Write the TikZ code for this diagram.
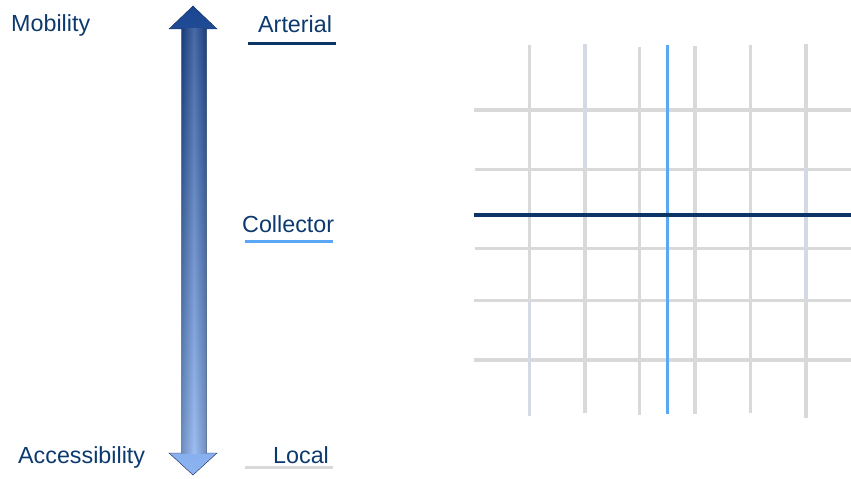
\documentclass[tikz,border=0pt]{standalone}
\usepackage{fontspec}
\setmainfont{Liberation Sans}
\definecolor{txtblue}{HTML}{0D3A6E}
\definecolor{artcol}{HTML}{0B3566}
\definecolor{colcol}{HTML}{5AA8F5}
\definecolor{loccol}{HTML}{D9D9D9}
\definecolor{gridgray}{HTML}{D9D9D9}
\definecolor{gridblu}{HTML}{D3DAE4}
\definecolor{arrtop}{HTML}{1A4590}
\definecolor{arrbot}{HTML}{8DB4F2}
\tikzset{
  lbl/.style={anchor=base west, inner sep=0pt, text=txtblue, font=\fontsize{23.3bp}{27bp}\selectfont},
  uline/.style={line width=3bp},
  road/.style={line width=3.3bp, gridgray},
  roadb/.style={line width=3.3bp, gridblu},
}
\begin{document}
\begin{tikzpicture}[x=1bp,y=-1bp]
\useasboundingbox (0,0) rectangle (851,479);
% arrow
\path[shade, top color=arrtop, bottom color=arrbot, draw=arrtop!60!black, line width=0.4bp]
  (193,6) -- (217,29) -- (206.5,29) -- (206.5,453) -- (217,453) -- (193,475) -- (169,453)
  -- (181.5,453) -- (181.5,29) -- (169,29) -- cycle;
\shade[left color=black, right color=black, middle color=white, fill opacity=0.18]
  (181.5,29) rectangle (206.5,453);
% labels
\node[lbl] (mob) at (11,32) {Mobility};
\node[lbl] (acc) at (18,463) {Accessibility};
\node[lbl] (art) at (258,33) {Arterial};
\node[lbl] (col) at (242,233) {Collector};
\node[lbl] (loc) at (273,463) {Local};
\coordinate (artA) at (248,43.5); \coordinate (artB) at (336,43.5);
\coordinate (colA) at (245,241.5); \coordinate (colB) at (333,241.5);
\coordinate (locA) at (245,467.5); \coordinate (locB) at (333,467.5);
\draw[uline, artcol] (artA) -- (artB);
\draw[uline, colcol] (colA) -- (colB);
\draw[uline, loccol] (locA) -- (locB);
% grid horizontals
\draw[road] (474,110) -- (851,110);
\draw[road] (475,169.3) -- (851,169.3);
\draw[road] (475,248.3) -- (851,248.3);
\draw[road] (474,300.7) -- (851,300.7);
\draw[road] (474,360) -- (851,360);
% grid verticals
\draw[road] (529.3,45) -- (529.3,300.7);
\draw[roadb] (529.3,300.7) -- (529.3,416);
\draw[roadb] (585,44) -- (585,169.3);
\draw[road] (585,169.3) -- (585,413);
\draw[road] (639.3,47) -- (639.3,415);
\draw[road] (695,46) -- (695,414);
\draw[road] (750.7,45) -- (750.7,413);
\draw[road] (806,44) -- (806,169.3);
\draw[roadb] (806,169.3) -- (806,300.7);
\draw[road] (806,300.7) -- (806,418);
% collector and arterial
\draw[line width=3.5bp, colcol] (667.3,45) -- (667.3,414);
\draw[line width=3.2bp, artcol] (474,215) -- (851,215);
\end{tikzpicture}
\end{document}
